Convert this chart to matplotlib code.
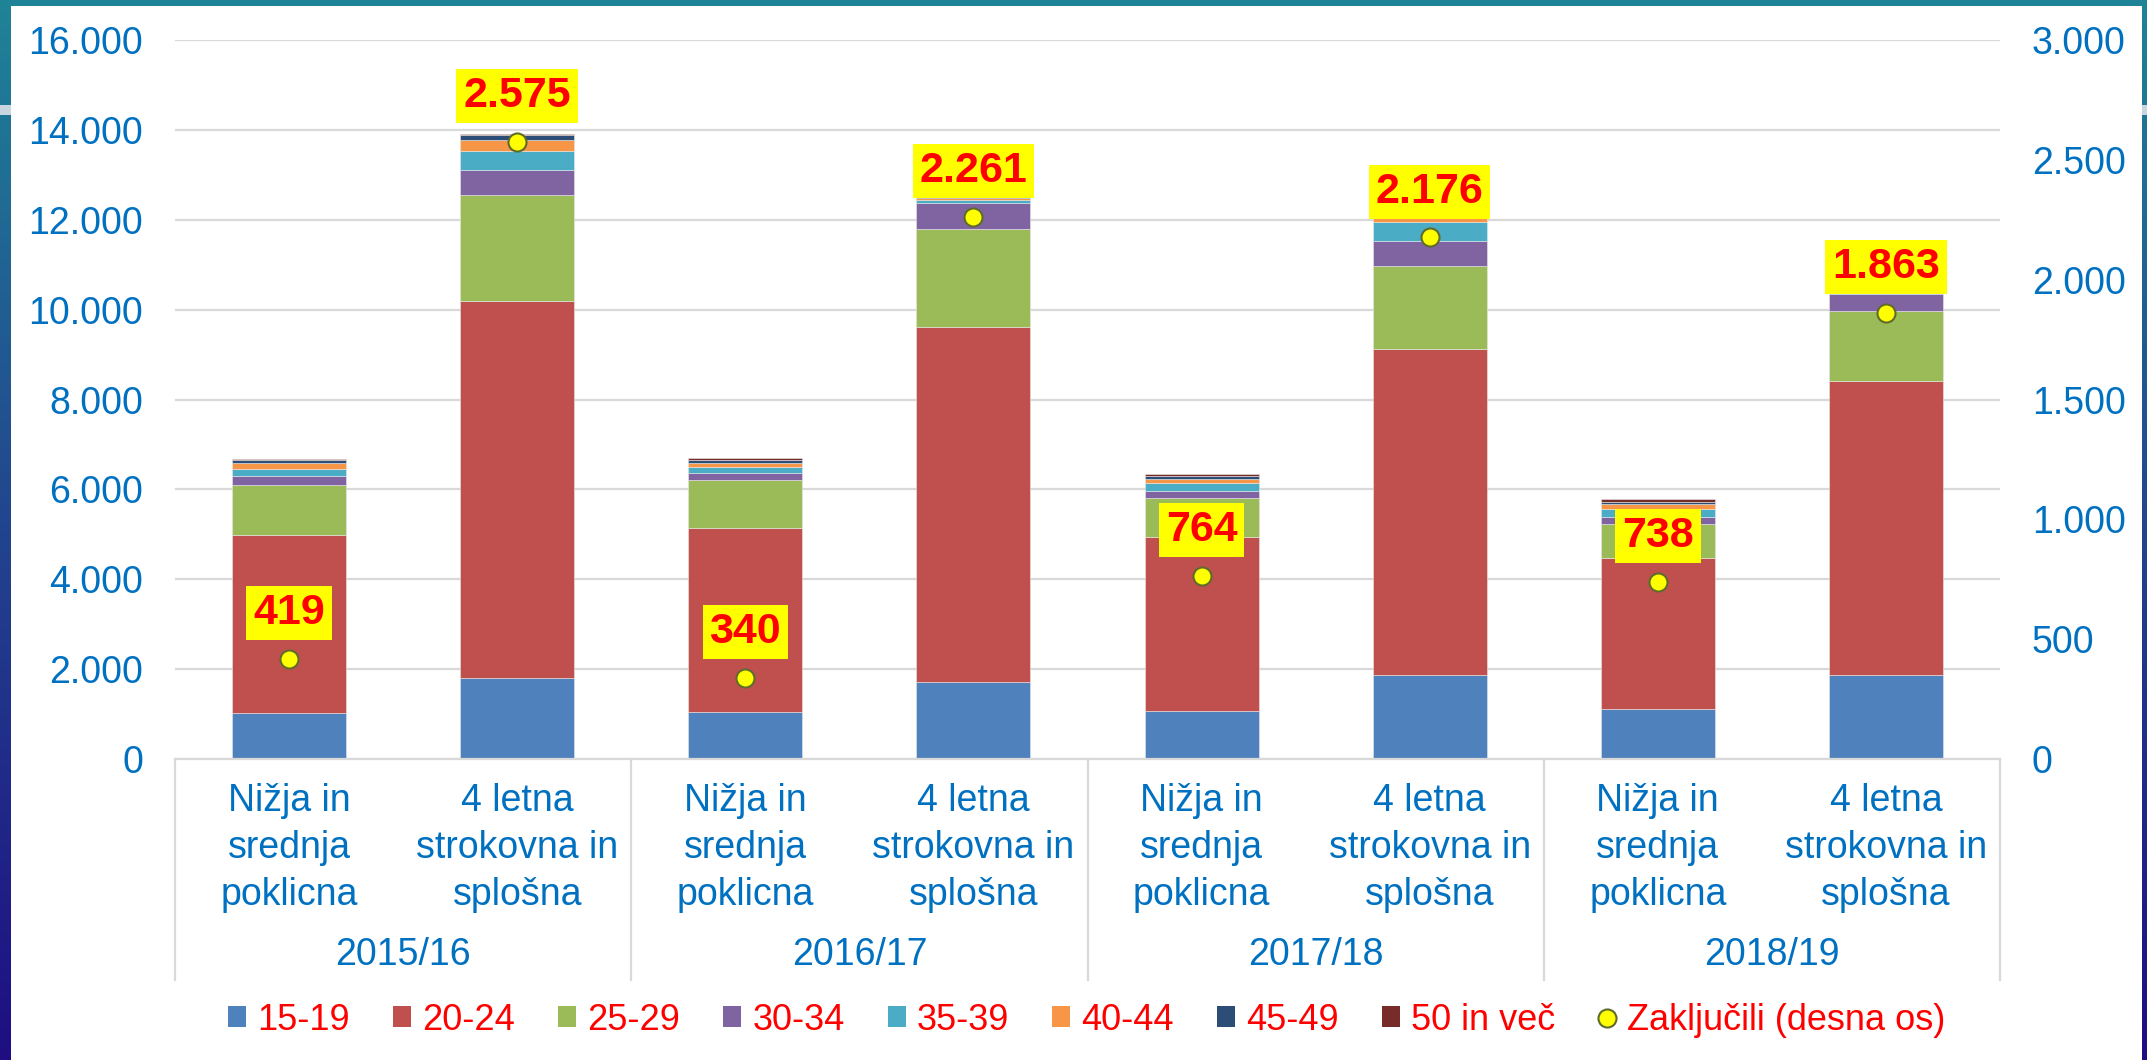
import numpy as np
import matplotlib
matplotlib.use("Agg")
import matplotlib.pyplot as plt
from matplotlib.patches import Patch, Rectangle
from matplotlib.lines import Line2D
from matplotlib import transforms

plt.rcParams['font.family'] = ['Liberation Sans', 'DejaVu Sans']

# podatki
years = ["2015/16", "2016/17", "2017/18", "2018/19"]
programs = ["Nižja in\nsrednja\npoklicna", "4 letna\nstrokovna in\nsplošna"]
age_groups = ["15-19", "20-24", "25-29", "30-34", "35-39", "40-44", "45-49", "50 in več"]

v_15_19 = [1017, 1810, 1040, 1710, 1068, 1862, 1120, 1862]
v_20_24 = [3968, 8390, 4107, 7900, 3879, 7258, 3360, 6558]
v_25_29 = [1112, 2350, 1053, 2190, 863, 1860, 740, 1550]
v_30_34 = [207, 560, 170, 565, 160, 550, 170, 380]
v_35_39 = [149, 420, 130, 80, 165, 410, 166, 60]
v_40_44 = [127, 240, 90, 50, 105, 100, 111, 40]
v_45_49 = [73, 110, 60, 30, 60, 50, 58, 20]
v_50 = [23, 30, 40, 15, 40, 20, 60, 10]

zakljucili = [419, 2575, 340, 2261, 764, 2176, 738, 1863]

colors = ["#4F81BD", "#C0504D", "#9BBB59", "#8064A2", "#4BACC6", "#F79646", "#2C4D75", "#772C2A"]
blue_txt = "#0070C0"


def fmt(v):
    return f"{v:,.0f}".replace(",", ".")


W, H = 2147, 1060
fig = plt.figure(figsize=(W / 100, H / 100), dpi=100)
ax = fig.add_axes([175 / W, 1 - 759 / H, (2000 - 175) / W, (759 - 40) / H])

series = [v_15_19, v_20_24, v_25_29, v_30_34, v_35_39, v_40_44, v_45_49, v_50]
x = np.arange(len(v_15_19))
bottom = np.zeros(len(x))
for vals, c in zip(series, colors):
    ax.bar(x, vals, 0.5, bottom=bottom, color=c, edgecolor="#e8e8e8", linewidth=0.4, zorder=2)
    bottom += np.array(vals)

ax.set_xlim(-0.5, 7.5)
ax.set_ylim(0, 16000)
ax.set_yticks(np.arange(0, 16001, 2000))
ax.set_yticklabels([fmt(v) for v in np.arange(0, 16001, 2000)])
ax.tick_params(axis="y", length=0, pad=23, labelsize=27, labelcolor=blue_txt)
ax.set_xticks([])
ax.grid(axis="y", color="#D9D9D9", linewidth=1.6, zorder=0)
ax.set_axisbelow(True)
for s in ["top", "right", "left"]:
    ax.spines[s].set_visible(False)
ax.spines["bottom"].set_color("#D9D9D9")
ax.spines["bottom"].set_linewidth(1.6)

ax2 = ax.twinx()
ax2.set_ylim(0, 3000)
ax2.set_yticks(np.arange(0, 3001, 500))
ax2.set_yticklabels([fmt(v) for v in np.arange(0, 3001, 500)])
ax2.tick_params(axis="y", length=0, pad=23, labelsize=27, labelcolor=blue_txt)
for s in ax2.spines.values():
    s.set_visible(False)

ax2.plot(x, zakljucili, linestyle="none", marker="o", markersize=13,
         markerfacecolor="#FFFF00", markeredgecolor="#5F6B2A", markeredgewidth=1.5, zorder=3)
for xi, v in zip(x, zakljucili):
    ax2.annotate(fmt(v), (xi, v), xytext=(0, 33), textcoords="offset points",
                 ha="center", va="center", fontsize=31, fontweight="bold", color="#FF0000",
                 bbox=dict(boxstyle="square,pad=0.16", fc="#FFFF00", ec="none"), zorder=5)

# kategorije na dveh nivojih
trans = transforms.blended_transform_factory(ax.transData, fig.transFigure)
for i in range(len(x)):
    ax.text(x[i], 1 - 848 / H, programs[i % 2], transform=trans, ha="center", va="center",
            fontsize=27, color=blue_txt, linespacing=1.38)
for j, y in enumerate(years):
    ax.text(2 * j + 0.5, 1 - 955 / H, y, transform=trans, ha="center", va="center",
            fontsize=27, color=blue_txt)
for sx in [-0.5, 1.5, 3.5, 5.5, 7.5]:
    ax.add_line(Line2D([sx, sx], [1 - 759 / H, 1 - 980 / H], transform=trans,
                       color="#D9D9D9", linewidth=1.6, clip_on=False))

# legenda
handles = [Patch(facecolor=c, edgecolor="none") for c in colors]
handles.append(Line2D([], [], linestyle="none", marker="o", markersize=13,
                      markerfacecolor="#FFFF00", markeredgecolor="#5F6B2A", markeredgewidth=1.5))
labels = age_groups + ["Zaključili (desna os)"]
leg = fig.legend(handles, labels, loc="center", bbox_to_anchor=(1087 / W, 1 - 1020 / H),
                 ncol=9, frameon=False, fontsize=26, handlelength=0.5, handleheight=0.5,
                 handletextpad=0.3, columnspacing=1.2)
for t in leg.get_texts():
    t.set_color("#FF0000")

# okvir prosojnice
grad = np.linspace(0, 1, 256).reshape(-1, 1)
cmap = matplotlib.colors.LinearSegmentedColormap.from_list("okvir", ["#1F8397", "#22448E", "#1E0E82"])
lax = fig.add_axes([0, 0, 11 / W, 1])
lax.imshow(grad, aspect="auto", cmap=cmap)
lax.axis("off")
rax = fig.add_axes([1 - 5 / W, 0, 5 / W, 1])
rax.imshow(grad, aspect="auto", cmap=cmap)
rax.axis("off")
fig.patches.append(Rectangle((0, 1 - 6 / H), 1, 6 / H, transform=fig.transFigure,
                             facecolor="#1F8397", edgecolor="none", zorder=10))
fig.patches.append(Rectangle((0, 1 - 115 / H), 11 / W, 10 / H, transform=fig.transFigure,
                             facecolor="#C9D6DF", edgecolor="none", zorder=10))
fig.patches.append(Rectangle((1 - 5 / W, 1 - 115 / H), 5 / W, 10 / H, transform=fig.transFigure,
                             facecolor="#C9D6DF", edgecolor="none", zorder=10))

fig.savefig("out.png", dpi=100)
